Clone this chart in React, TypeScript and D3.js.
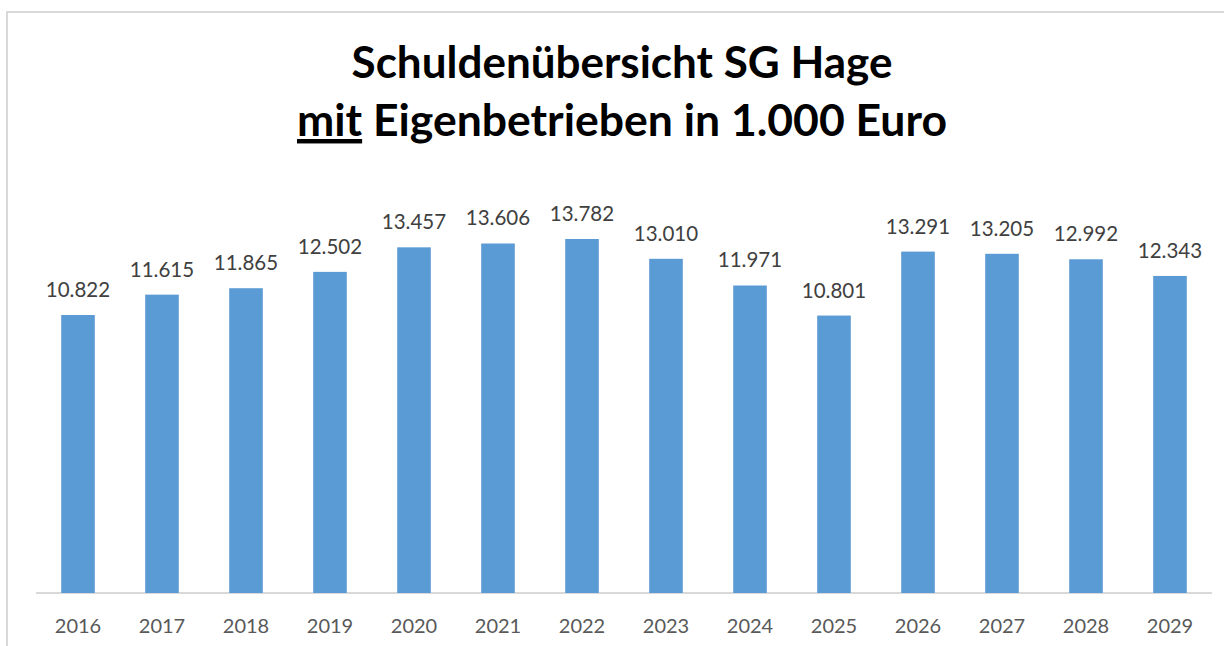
import React from "react";
import * as d3 from "d3";

const years = ["2016","2017","2018","2019","2020","2021","2022","2023","2024","2025","2026","2027","2028","2029"];
const values = [10822, 11615, 11865, 12502, 13457, 13606, 13782, 13010, 11971, 10801, 13291, 13205, 12992, 12343];
const titleLine1 = "Schuldenübersicht SG Hage";
const titleLine2Underlined = "mit";
const titleLine2Rest = " Eigenbetrieben in 1.000 Euro";

const W = 1224;
const H = 646;
const FONT = "Lato, 'Open Sans', sans-serif";

export default function App() {
  const x = d3.scaleBand().domain(years).range([36, 1212]).paddingInner(0.6).paddingOuter(0.3);
  const y = d3.scaleLinear().domain([0, 16000]).range([593, 182]);
  const fmt = (v: number) => d3.format(",")(v).replace(/,/g, ".");

  return (
    <div style={{ position: "fixed", left: 0, top: 0 }}>
      <svg width={W} height={H} style={{ display: "block", background: "#fff" }}>
        <rect x={7} y={12} width={W + 20} height={H + 20} fill="#fff" stroke="#d9d9d9" strokeWidth={2} />
        <text x={622} y={78} textAnchor="middle" fontFamily={FONT} fontWeight={700} fontSize={44} fill="#000">
          {titleLine1}
        </text>
        <text x={622} y={136} textAnchor="middle" fontFamily={FONT} fontWeight={700} fontSize={44.5} fill="#000">
          <tspan style={{ textDecoration: "underline" }}>{titleLine2Underlined}</tspan>
          <tspan>{titleLine2Rest}</tspan>
        </text>
        <line x1={36} x2={1212} y1={593} y2={593} stroke="#d9d9d9" strokeWidth={2} />
        {years.map((yr, i) => {
          const bx = x(yr)!;
          const top = y(values[i]);
          return (
            <g key={yr}>
              <rect x={bx} y={top} width={x.bandwidth()} height={y(0) - top} fill="#5b9bd5" />
              <text x={bx + x.bandwidth() / 2} y={top - 18} textAnchor="middle" fontFamily={FONT} fontSize={20.5} fill="#404040">
                {fmt(values[i])}
              </text>
              <text x={bx + x.bandwidth() / 2} y={633} textAnchor="middle" fontFamily={FONT} fontSize={20} fill="#595959">
                {yr}
              </text>
            </g>
          );
        })}
      </svg>
    </div>
  );
}
